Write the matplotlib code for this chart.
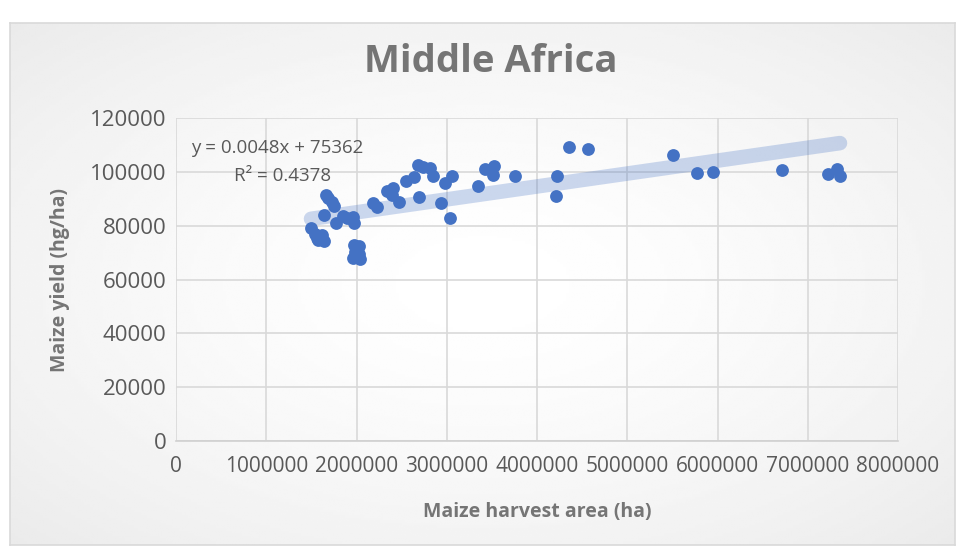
import numpy as np
import matplotlib.pyplot as plt

# maize harvest area (ha) and yield (hg/ha)
area = [1496000, 1540000, 1562000, 1614000, 1637000, 1577000, 1659000, 1688000,
        1725000, 1754000, 1643000, 1770000, 1854000, 1891000, 1965000, 1976000,
        1976000, 2028000, 1983000, 2028000, 1965000, 2039000, 2186000, 2230000,
        2341000, 2401000, 2390000, 2474000, 2548000, 2637000, 2685000, 2740000,
        2814000, 2844000, 2696000, 2981000, 3055000, 2933000, 3036000, 3350000,
        3424000, 3523000, 3516000, 3756000, 4210000, 4225000, 4358000, 4568000,
        5503000, 5769000, 5947000, 6711000, 7227000, 7327000, 7357000]
yields = [79240, 76790, 75530, 76530, 74300, 74500, 91390, 90160,
          88900, 87410, 83960, 80870, 83700, 82730, 83330, 80870,
          72810, 72560, 70330, 69360, 67870, 67610, 88310, 86820,
          92990, 93880, 91390, 88900, 96700, 98190, 102530, 101900,
          101310, 98450, 90760, 95740, 98450, 88530, 82730, 94840,
          100940, 102160, 98820, 98450, 91130, 98560, 109110, 108370,
          106250, 99670, 99930, 100680, 99190, 100940, 98450]

# linear trendline as printed on the chart
slope = 0.0048
intercept = 75362
r_squared = 0.4378

x_ticks = list(range(0, 8000001, 1000000))
y_ticks = list(range(0, 120001, 20000))

W, H = 958, 550
plt.rcParams['font.family'] = ['Open Sans', 'DejaVu Sans']
fig = plt.figure(figsize=(W / 100, H / 100), dpi=100)

# chart area: soft radial grey gradient inside a thin frame
bg = fig.add_axes([10 / W, 1 - 545 / H, 945 / W, 522 / H])
yy, xx = np.mgrid[-1:1:200j, -1:1:300j]
rr = np.clip(np.sqrt(xx ** 2 + yy ** 2) / np.sqrt(2), 0, 1)
bg.imshow(1 - 0.08 * rr ** 1.5, cmap='gray', vmin=0, vmax=1,
          aspect='auto', extent=[0, 1, 0, 1], interpolation='bilinear')
bg.set_xticks([])
bg.set_yticks([])
for s in bg.spines.values():
    s.set_color('#d9d9d9')
    s.set_linewidth(1.2)

ax = fig.add_axes([176 / W, 1 - 441 / H, 722 / W, 323 / H])
ax.patch.set_alpha(0)

xs = np.array([min(area), max(area)])
ax.plot(xs, slope * xs + intercept, color='#4472C4', alpha=0.27, lw=10.5,
        solid_capstyle='round', zorder=2)
ax.scatter(area, yields, s=85, color='#4472C4', linewidths=0, zorder=3)

ax.set_xlim(0, 8000000)
ax.set_ylim(0, 120000)
ax.set_xticks(x_ticks)
ax.set_yticks(y_ticks)
ax.set_xticklabels([str(v) for v in x_ticks])
ax.set_yticklabels([str(v) for v in y_ticks])
ax.tick_params(length=0, colors='#595959')
ax.tick_params(axis='x', pad=11, labelsize=15)
ax.tick_params(axis='y', pad=7, labelsize=16)
ax.grid(True, color='#d9d9d9', lw=1.2, zorder=0)
ax.set_axisbelow(True)
for side in ('top', 'right', 'left'):
    ax.spines[side].set_visible(False)
ax.spines['bottom'].set_color('#d0d0d0')
ax.spines['bottom'].set_linewidth(1.2)

fig.text(491 / W, 1 - 62 / H, "Middle Africa", fontsize=27.5, fontweight='bold',
         color='#757575', ha='center', va='center')
fig.text(537 / W, 1 - 512 / H, "Maize harvest area (ha)", fontsize=14,
         fontweight='bold', color='#757575', ha='center', va='center')
fig.text(60 / W, 1 - 280 / H, "Maize yield (hg/ha)", fontsize=14,
         fontweight='bold', color='#757575', ha='center', va='center',
         rotation=90)

fig.text(277 / W, 1 - 148 / H, f"y = {slope}x + {intercept}", fontsize=13.5,
         color='#595959', ha='center', va='center')
fig.text(283 / W, 1 - 176 / H, f"R² = {r_squared}", fontsize=13.5,
         color='#595959', ha='center', va='center')

fig.savefig("out.png", dpi=100)
